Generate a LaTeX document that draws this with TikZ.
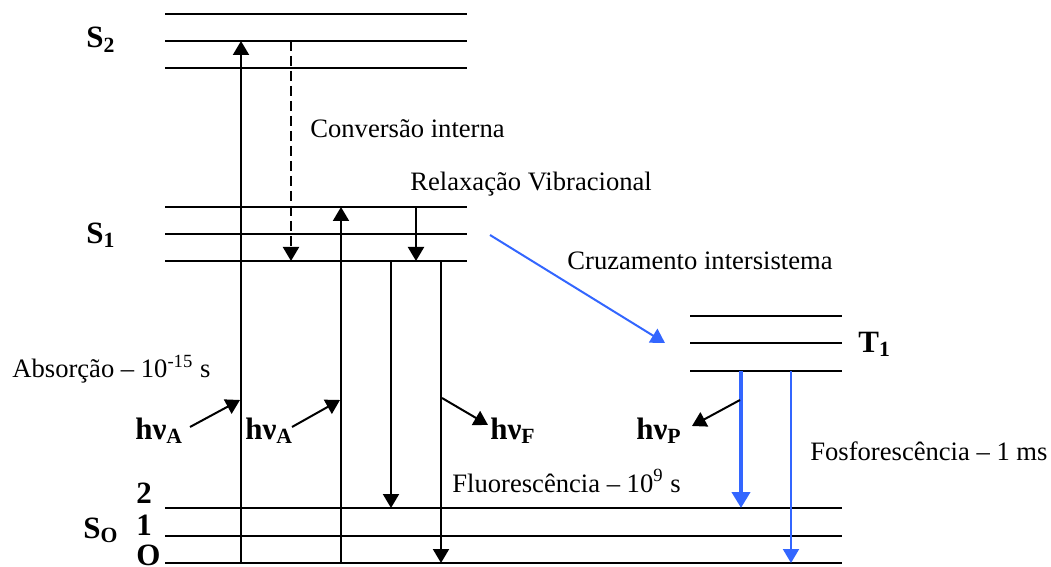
\documentclass[tikz,border=0pt]{standalone}
\usepackage{fontspec}
\setmainfont{Liberation Serif}
\usetikzlibrary{arrows.meta}
\definecolor{isblue}{RGB}{51,102,255}

\tikzset{
  level/.style={line width=1pt},
  trans/.style={line width=1pt,-{Triangle[length=7pt,width=8pt]}},
  photon/.style={line width=1pt,-{Triangle[length=7pt,width=8pt]}},
  txt/.style={anchor=base west,inner sep=0pt,font=\fontsize{13.3}{16}\selectfont},
  btxt/.style={anchor=base west,inner sep=0pt,font=\fontsize{15.5}{18}\selectfont\bfseries}
}

\begin{document}
\begin{tikzpicture}[x=0.5pt,y=-0.5pt]
          \useasboundingbox (0,0) rectangle (1051,567);
          % Draw the energy levels
          \foreach \y in {14,41,68,207,234,261} \draw[level] (165,\y) -- (467,\y);
          \foreach \y in {316,343,371} \draw[level] (690,\y) -- (842,\y);
          \foreach \y in {508,536,563} \draw[level] (165,\y) -- (842,\y);
          % label the levels
          \node[btxt] (S2) at (86,48) {S\textsubscript{2}};
          \node[btxt] (S1) at (86,243) {S\textsubscript{1}};
          \node[btxt] (S0) at (83,538) {S\textsubscript{O}};
          \node[btxt] (T1) at (858,352) {T\textsubscript{1}};
          \node[btxt] (v2) at (136,503) {2};
          \node[btxt] (v1) at (136,535) {1};
          \node[btxt] (v0) at (136,565) {O};
          % end points of the transitions
          \coordinate (absAa) at (241,563);
          \coordinate (absAb) at (241,41);
          \coordinate (absBa) at (341,563);
          \coordinate (absBb) at (341,207);
          \coordinate (convA) at (291,41);
          \coordinate (convB) at (291,261);
          \coordinate (relA) at (416,207);
          \coordinate (relB) at (416,261);
          \coordinate (fluAa) at (391,261);
          \coordinate (fluAb) at (391,508);
          \coordinate (fluBa) at (441,261);
          \coordinate (fluBb) at (441,563);
          \coordinate (fosAa) at (741,371);
          \coordinate (fosAb) at (741,508);
          \coordinate (fosBa) at (791,371);
          \coordinate (fosBb) at (791,563);
          \coordinate (cruzA) at (490,235);
          \coordinate (cruzB) at (665,343);
          % Draw the transitions
          \draw[trans] (absAa) -- (absAb);
          \draw[trans] (absBa) -- (absBb);
          \draw[trans,dash pattern=on 5pt off 2.5pt] (convA) -- (convB);
          \draw[trans] (relA) -- (relB);
          \draw[trans] (fluAa) -- (fluAb);
          \draw[trans] (fluBa) -- (fluBb);
          \draw[isblue,line width=2pt,-{Triangle[length=8pt,width=9pt]}] (fosAa) -- (fosAb);
          \draw[trans,isblue] (fosBa) -- (fosBb);
          \draw[trans,isblue] (cruzA) -- (cruzB);
          % Label the processes
          \node[txt] (conv) at (310,138) {Conversão interna};
          \node[txt] (rel) at (410,191) {Relaxação Vibracional};
          \node[txt] (cruz) at (567,270) {Cruzamento intersistema};
          \node[txt] (abs) at (12,378) {Absorção – 10\textsuperscript{-15} s};
          \node[txt] (flu) at (452,492) {Fluorescência – 10\textsuperscript{9} s};
          \node[txt] (fos) at (810,460) {Fosforescência – 1 ms};
          % Draw the photons
          \node[btxt] (hvA1) at (135,439) {hν\textsubscript{A}};
          \node[btxt] (hvA2) at (245,439) {hν\textsubscript{A}};
          \node[btxt] (hvF) at (490,439) {hν\textsubscript{F}};
          \node[btxt] (hvP) at (636,439) {hν\textsubscript{P}};
          \coordinate (phA1) at (190,427);
          \coordinate (phA1e) at (240,400);
          \coordinate (phA2) at (292,427);
          \coordinate (phA2e) at (340,400);
          \coordinate (phF) at (442,398);
          \coordinate (phFe) at (488,425);
          \coordinate (phP) at (740,400);
          \coordinate (phPe) at (692,426);
          \draw[photon] (phA1) -- (phA1e);
          \draw[photon] (phA2) -- (phA2e);
          \draw[photon] (phF) -- (phFe);
          \draw[photon] (phP) -- (phPe);
\end{tikzpicture}
\end{document}
